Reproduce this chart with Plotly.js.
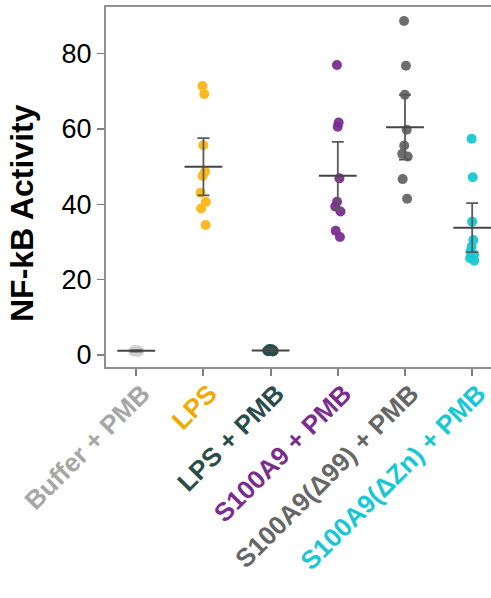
<!DOCTYPE html>
<html>
<head>
<meta charset="utf-8">
<script src="https://cdn.plot.ly/plotly-3.0.1.min.js"></script>
<style>html,body{margin:0;padding:0;background:#fff;}#chart{width:491px;height:598px;}</style>
</head>
<body>
<div id="chart"></div>
<script>
const categories = ["Buffer + PMB", "LPS", "LPS + PMB", "S100A9 + PMB", "S100A9(Δ99) + PMB", "S100A9(ΔZn) + PMB"];
const bufferPmb = [0.9, 1.0, 1.1, 1.2, 1.0, 1.3, 0.8, 1.1, 1.2];
const lps = [71.4, 69.3, 55.7, 48.7, 47.5, 43.1, 40.6, 38.9, 34.5];
const lpsPmb = [1.0, 1.2, 1.4, 1.1, 1.5, 1.3, 0.9, 1.2, 1.6];
const s100a9Pmb = [77.0, 61.7, 60.6, 46.9, 40.7, 39.4, 38.1, 33.0, 31.3];
const d99Pmb = [88.7, 76.8, 69.1, 59.8, 55.6, 53.4, 52.7, 46.7, 41.5];
const dZnPmb = [57.4, 47.2, 35.4, 30.5, 28.8, 27.4, 26.6, 25.7, 25.0];
const groupMeans = [1.1, 50.0, 1.2, 47.6, 60.5, 33.8];
const groupErrors = [0.2, 7.6, 0.2, 9.0, 8.6, 6.5];
const yTicks = [0, 20, 40, 60, 80];
const yTitle = "NF-kB Activity";

const series = [bufferPmb, lps, lpsPmb, s100a9Pmb, d99Pmb, dZnPmb];
const pointColors = ["#d0d0d0", "#fdb515", "#2a4d4b", "#7b2d8e", "#666666", "#17c8d4"];
const labelColors = ["#a6a6a6", "#f2a900", "#2a4d4b", "#7b2d8e", "#666666", "#17c8d4"];
const FONT = "Arial, 'Liberation Sans', sans-serif";

const traces = series.map((vals, i) => ({
  type: "box",
  x: vals.map(() => categories[i]),
  y: vals,
  boxpoints: "all",
  jitter: 0.25,
  pointpos: 0,
  fillcolor: "rgba(0,0,0,0)",
  line: {width: 0, color: "rgba(0,0,0,0)"},
  whiskerwidth: 0,
  marker: {color: pointColors[i], size: 10, opacity: 0.95},
  hoverinfo: "skip",
  showlegend: false
}));

traces.push({
  type: "scatter",
  mode: "markers",
  x: categories,
  y: groupMeans,
  marker: {symbol: "line-ew", size: 27, color: "#444", line: {width: 2, color: "#444"}},
  error_y: {type: "data", array: groupErrors, visible: true, width: 6, thickness: 1.8, color: "#5a5a5a"},
  hoverinfo: "skip",
  showlegend: false
});

const tickText = categories.map((c, i) => `<span style="color:${labelColors[i]}"><b>${c}</b></span>`);

const plotL = 106, plotW = 385;

const layout = {
  width: 491, height: 598,
  margin: {l: plotL, r: 0, t: 7, b: 231},
  paper_bgcolor: "#fff", plot_bgcolor: "#fff",
  showlegend: false,
  boxmode: "overlay",
  font: {family: FONT, color: "#000"},
  xaxis: {
    type: "category",
    categoryorder: "array", categoryarray: categories,
    range: [-0.45, 5.28],
    tickvals: categories, ticktext: tickText,
    tickangle: -45,
    tickfont: {family: FONT, size: 26},
    ticklabelstandoff: -8,
    ticklabelshift: 6,
    ticks: "outside", ticklen: 7, tickwidth: 2, tickcolor: "#808080",
    showline: true, linecolor: "#909090", linewidth: 2, mirror: true,
    showgrid: false, zeroline: false
  },
  yaxis: {
    range: [-3.2, 92.4],
    tickvals: yTicks,
    tickfont: {family: FONT, size: 27, color: "#000"},
    ticks: "outside", ticklen: 7, tickwidth: 1.5, tickcolor: "#808080",
    showline: true, linecolor: "#909090", linewidth: 2,
    showgrid: false, zeroline: false
  },
  annotations: [{
    text: "<b>" + yTitle + "</b>",
    xref: "paper", yref: "paper",
    x: (22 - plotL) / plotW, y: (367 - 213) / 360,
    xanchor: "center", yanchor: "middle",
    textangle: -90, showarrow: false,
    font: {family: FONT, size: 32, color: "#000"}
  }]
};

Plotly.newPlot("chart", traces, layout, {displayModeBar: false, staticPlot: true});
</script>
</body>
</html>
